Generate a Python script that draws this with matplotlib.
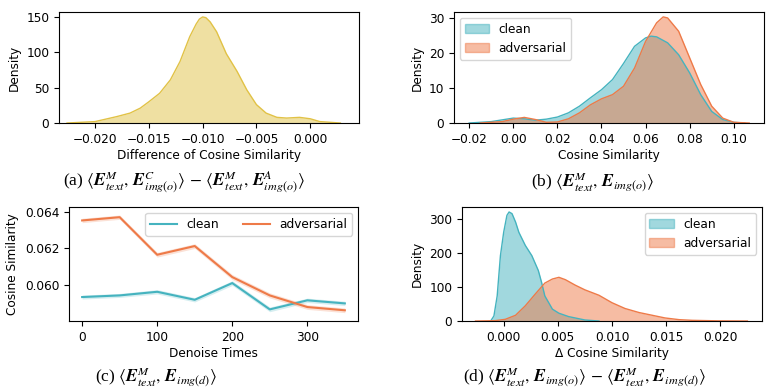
import numpy as np
import matplotlib
matplotlib.use("Agg")
import matplotlib.pyplot as plt
import matplotlib.patches as mpatches

plt.rcParams['font.family'] = ['DejaVu Sans']
plt.rcParams['mathtext.fontset'] = 'stix'

# --- colours ---
YELLOW = '#e1c246'
TEAL = '#45b3bf'
ORANGE = '#ee7a48'

# --- (a) density of difference of cosine similarity ---
a_x = [-0.0226, -0.0200, -0.0180, -0.01675, -0.0158, -0.0150, -0.0140, -0.0130,
       -0.0121, -0.0112, -0.0106, -0.0103, -0.0100, -0.0097, -0.0093, -0.0087,
       -0.0078, -0.0068, -0.0059, -0.0050, -0.0041, -0.0031, -0.0022, -0.0010,
       0.0000, 0.0009, 0.0028]
a_y = [0, 2, 9, 14, 21, 30, 42, 61, 87, 122, 140, 147, 150, 149, 143, 129, 98, 73,
       47, 26, 14, 8, 7, 8, 6, 2, 0]

# --- (b) cosine similarity densities ---
b_clean_x = [-0.020, -0.010, 0.000, 0.005, 0.010, 0.015, 0.020, 0.025, 0.030, 0.035,
             0.040, 0.045, 0.050, 0.055, 0.060, 0.0625, 0.065, 0.070, 0.075, 0.080,
             0.085, 0.090, 0.095, 0.100, 0.105]
b_clean_y = [0.0, 0.4, 1.4, 1.2, 0.8, 1.1, 1.7, 2.9, 4.8, 7.2, 9.5, 12.4, 17.0, 21.9,
             24.3, 24.8, 24.6, 22.9, 19.5, 14.3, 8.1, 3.3, 1.0, 0.2, 0.0]
b_adv_x = [-0.015, -0.005, 0.000, 0.005, 0.010, 0.015, 0.020, 0.025, 0.030, 0.035,
           0.040, 0.045, 0.050, 0.055, 0.060, 0.065, 0.068, 0.070, 0.075, 0.080,
           0.085, 0.090, 0.095, 0.100, 0.107]
b_adv_y = [0.0, 0.4, 1.1, 1.6, 1.0, 0.2, 0.3, 1.2, 2.9, 5.2, 6.9, 8.1, 10.5, 15.7,
           23.3, 28.6, 30.3, 30.0, 26.2, 18.6, 11.0, 4.8, 1.4, 0.2, 0.0]

# --- (c) cosine similarity vs denoise times ---
denoise_steps = [0, 50, 100, 150, 200, 250, 300, 350]
c_clean = [0.05932, 0.05941, 0.05961, 0.05917, 0.06009, 0.05864, 0.05914, 0.05897]
c_adv = [0.06354, 0.06372, 0.06165, 0.06213, 0.06042, 0.05941, 0.05877, 0.05859]
c_clean_err = [0.00011, 0.00011, 0.00012, 0.00012, 0.00013, 0.00013, 0.00012, 0.00012]
c_adv_err = [0.00012, 0.00012, 0.00013, 0.00013, 0.00014, 0.00014, 0.00013, 0.00013]

# --- (d) delta cosine similarity densities ---
d_clean_x = [-0.0012, -0.0009, -0.0006, -0.0003, 0.0000, 0.0003, 0.0005, 0.00077,
             0.0011, 0.0014, 0.0020, 0.0026, 0.0032, 0.0035, 0.0038, 0.0045, 0.0051,
             0.0060, 0.0075, 0.0088]
d_clean_y = [0, 15, 74, 193, 262, 312, 322, 317, 292, 262, 223, 193, 149, 114, 74,
             35, 23, 13, 3, 0]
d_adv_x = [-0.0026, -0.0008, 0.00015, 0.0011, 0.0020, 0.0029, 0.0038, 0.0045, 0.0051,
           0.0057, 0.0066, 0.0075, 0.0088, 0.0100, 0.0112, 0.0125, 0.0137, 0.0149,
           0.0162, 0.0174, 0.0198, 0.0225]
d_adv_y = [0, 1, 5, 17, 45, 79, 112, 124, 129, 122, 106, 92, 76, 54, 37, 25, 17, 9,
           4, 2, 0.5, 0]

LABEL_FS = 8.7
TICK_FS = 8.7
CAP_FS = 12.5


def kde_fill(ax, x, y, color):
    ax.fill_between(x, y, color=color, alpha=0.5, linewidth=0)
    ax.plot(x, y, color=color, linewidth=1)


def style(ax):
    ax.tick_params(labelsize=TICK_FS, length=3.5, width=0.8)
    for s in ax.spines.values():
        s.set_linewidth(0.8)


fig = plt.figure(figsize=(7.71, 3.92), dpi=100)

# === (a) ===
ax_a = fig.add_axes([0.0765, 0.6862, 0.3891, 0.2832])
kde_fill(ax_a, a_x, a_y, YELLOW)
ax_a.set_xlim(-0.02335, 0.00453)
ax_a.set_ylim(0, 157)
ax_a.set_xticks([-0.020, -0.015, -0.010, -0.005, 0.000])
ax_a.set_xticklabels(['\u22120.020', '\u22120.015', '\u22120.010', '\u22120.005', '0.000'])
ax_a.set_yticks([0, 50, 100, 150])
ax_a.set_xlabel('Difference of Cosine Similarity', fontsize=LABEL_FS, labelpad=2)
ax_a.set_ylabel('Density', fontsize=LABEL_FS)
style(ax_a)

# === (b) ===
ax_b = fig.add_axes([0.5888, 0.6862, 0.4021, 0.2832])
kde_fill(ax_b, b_clean_x, b_clean_y, TEAL)
kde_fill(ax_b, b_adv_x, b_adv_y, ORANGE)
ax_b.set_xlim(-0.0269, 0.1137)
ax_b.set_ylim(0, 31.7)
ax_b.set_xticks([-0.02, 0.00, 0.02, 0.04, 0.06, 0.08, 0.10])
ax_b.set_xticklabels(['\u22120.02', '0.00', '0.02', '0.04', '0.06', '0.08', '0.10'])
ax_b.set_yticks([0, 10, 20, 30])
ax_b.set_xlabel('Cosine Similarity', fontsize=LABEL_FS, labelpad=2)
ax_b.set_ylabel('Density', fontsize=LABEL_FS)
handles = [mpatches.Patch(facecolor=TEAL, edgecolor=TEAL, alpha=0.5, label='clean'),
           mpatches.Patch(facecolor=ORANGE, edgecolor=ORANGE, alpha=0.5, label='adversarial')]
ax_b.legend(handles=handles, loc='upper left', fontsize=LABEL_FS)
style(ax_b)

# === (c) ===
ax_c = fig.add_axes([0.0895, 0.1811, 0.3748, 0.2908])
for vals, err, color, name in [(c_clean, c_clean_err, TEAL, 'clean'),
                               (c_adv, c_adv_err, ORANGE, 'adversarial')]:
    lo = np.array(vals) - np.array(err)
    hi = np.array(vals) + np.array(err)
    ax_c.fill_between(denoise_steps, lo, hi, color=color, alpha=0.22, linewidth=0)
    ax_c.plot(denoise_steps, vals, color=color, linewidth=1.5, label=name)
ax_c.set_xlim(-17.5, 367.5)
ax_c.set_ylim(0.0580, 0.06428)
ax_c.set_xticks([0, 100, 200, 300])
ax_c.set_yticks([0.060, 0.062, 0.064])
ax_c.set_yticklabels(['0.060', '0.062', '0.064'])
ax_c.set_xlabel('Denoise Times', fontsize=LABEL_FS, labelpad=2)
ax_c.set_ylabel('Cosine Similarity', fontsize=LABEL_FS)
ax_c.legend(loc='upper right', ncol=2, fontsize=LABEL_FS, handlelength=2.2,
            columnspacing=2.0)
style(ax_c)

# === (d) ===
ax_d = fig.add_axes([0.5992, 0.1811, 0.3891, 0.2908])
kde_fill(ax_d, d_clean_x, d_clean_y, TEAL)
kde_fill(ax_d, d_adv_x, d_adv_y, ORANGE)
ax_d.set_xlim(-0.00385, 0.02385)
ax_d.set_ylim(0, 336.6)
ax_d.set_xticks([0.000, 0.005, 0.010, 0.015, 0.020])
ax_d.set_xticklabels(['0.000', '0.005', '0.010', '0.015', '0.020'])
ax_d.set_yticks([0, 100, 200, 300])
ax_d.set_xlabel('\u0394 Cosine Similarity', fontsize=LABEL_FS, labelpad=2)
ax_d.set_ylabel('Density', fontsize=LABEL_FS)
ax_d.legend(handles=handles, loc='upper right', fontsize=LABEL_FS)
style(ax_d)

# --- captions ---
cap_kw = dict(ha='center', va='center', fontsize=CAP_FS, family='Liberation Serif')
fig.text(0.238, 0.5357,
         r'(a) $\langle \boldsymbol{E}^{M}_{text},\, \boldsymbol{E}^{C}_{img(o)} \rangle'
         r' \,-\, \langle \boldsymbol{E}^{M}_{text},\, \boldsymbol{E}^{A}_{img(o)} \rangle$', **cap_kw)
fig.text(0.769, 0.5357,
         r'(b) $\langle \boldsymbol{E}^{M}_{text},\, \boldsymbol{E}_{img(o)} \rangle$', **cap_kw)
fig.text(0.202, 0.038,
         r'(c) $\langle \boldsymbol{E}^{M}_{text},\, \boldsymbol{E}_{img(d)} \rangle$', **cap_kw)
fig.text(0.758, 0.038,
         r'(d) $\langle \boldsymbol{E}^{M}_{text},\, \boldsymbol{E}_{img(o)} \rangle'
         r' \,-\, \langle \boldsymbol{E}^{M}_{text},\, \boldsymbol{E}_{img(d)} \rangle$', **cap_kw)

fig.savefig('out.png', dpi=100)
